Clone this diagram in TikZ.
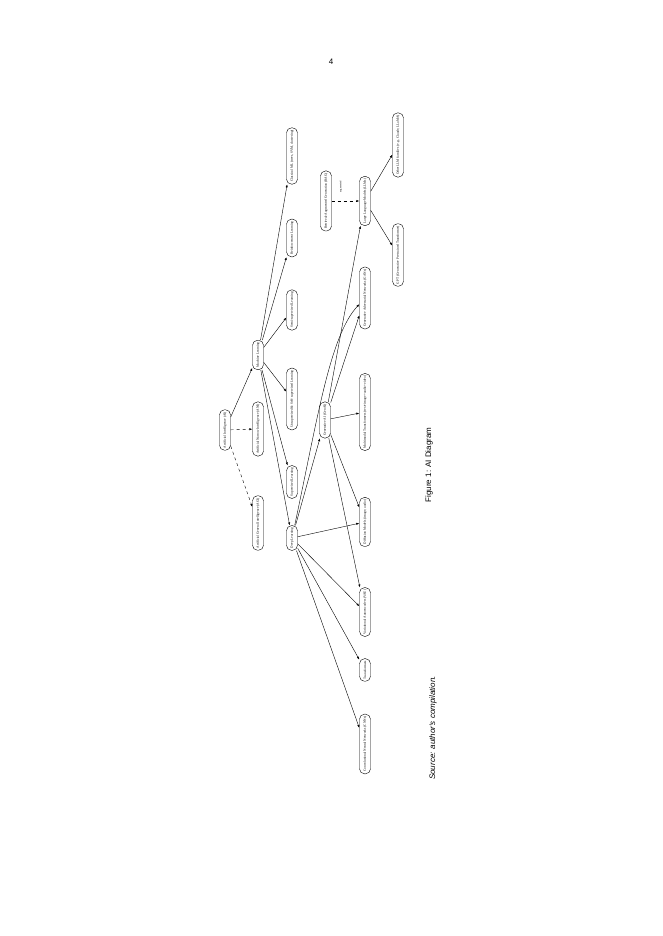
\documentclass[tikz,border=0pt]{standalone}
\usepackage{fontspec}
\setmainfont{Liberation Serif}
\newfontfamily\sansfont{Liberation Sans}
\usetikzlibrary{arrows.meta,positioning}
\begin{document}
\begin{tikzpicture}[x=1pt,y=1pt]
        \tikzstyle{concept}=[rectangle, rounded corners=5pt, draw, rotate=90, inner sep=2.2pt, minimum height=11pt, font=\fontsize{3.4}{4}\selectfont];
        \tikzstyle{link}=[-{Latex[length=3pt,width=2.2pt]}, line width=0.4pt];
        \useasboundingbox (0,0) rectangle (662,936);

        \node [font=\sansfont\fontsize{8}{9}\selectfont] (page) at (331,874) {4};

        % top rank
        \node [concept] (AI) at (225,506) {Artificial Intelligence (AI)};
        \node [concept] (ANI) at (258,507) {Artificial Narrow Intelligence (ANI)};
        \node [concept] (AGI) at (258,413) {Artificial General Intelligence (AGI)};
        \node [concept] (ML) at (258,581) {Machine Learning};

        % machine learning branches
        \node [concept] (CML) at (292,780) {Classical ML (trees, SVM, clustering)};
        \node [concept] (RL) at (292,698) {Reinforcement Learning};
        \node [concept] (SSL) at (292,626) {Semi-supervised Learning};
        \node [concept] (USL) at (292,537) {Unsupervised \& Self-supervised Learning};
        \node [concept] (SL) at (292,454) {Supervised Learning};
        \node [concept] (DL) at (292,398) {Deep Learning};

        % generative layer
        \node [concept] (RAG) at (326,735) {Retrieval-Augmented Generation (RAG)};
        \node [concept] (GenAI) at (325,516) {Generative AI (GenAI)};
        \node [concept] (LLM) at (365,735) {Large Language Models (LLMs)};
        \node [concept] (GAN) at (365,638) {Generative Adversarial Networks (GANs)};
        \node [concept] (MMT) at (365,524) {Multimodal Transformers (text+image+audio+video)};
        \node [concept] (DM) at (365,414) {Diffusion Models (image, audio)};
        \node [concept] (VAE) at (365,324) {Variational Autoencoders (VAE)};
        \node [concept] (TF) at (365,266) {Transformers};
        \node [concept] (CNN) at (365,192) {Convolutional Neural Networks (CNNs)};

        % model families
        \node [concept] (OTH) at (398,791) {Other LLM families (e.g., Claude, LLaMA)};
        \node [concept] (GPT) at (398,681) {GPT (Generative Pre-trained Transformer)};

        \draw [link] (AI) -- (ML);
        \draw [link, dashed] (AI) -- (ANI);
        \draw [link, dashed] (AI) -- (AGI);

        \foreach \t in {CML, RL, SSL, USL, SL, DL}
            \draw [link] (ML) -- (\t);

        \foreach \t in {GenAI, DM, VAE, TF, CNN}
            \draw [link] (DL) -- (\t);
        \draw [link] (DL) .. controls (318,520) and (330,600) .. (GAN);

        \foreach \t in {LLM, GAN, MMT, DM, VAE}
            \draw [link] (GenAI) -- (\t);

        \draw [link] (LLM) -- (OTH);
        \draw [link] (LLM) -- (GPT);
        \draw [link, dashed] (RAG) -- node [midway, above, rotate=90, yshift=0pt, xshift=14pt, font=\fontsize{2.6}{3}\selectfont] (alt) {augmented} (LLM);

        \node [rotate=90, font=\sansfont\fontsize{8}{9}\selectfont] (cap) at (429,471) {Figure 1: AI Diagram};
        \node [rotate=90, font=\sansfont\itshape\fontsize{8}{9}\selectfont] (src) at (433,208) {Source: author's compilation.};
    \end{tikzpicture}
\end{document}
